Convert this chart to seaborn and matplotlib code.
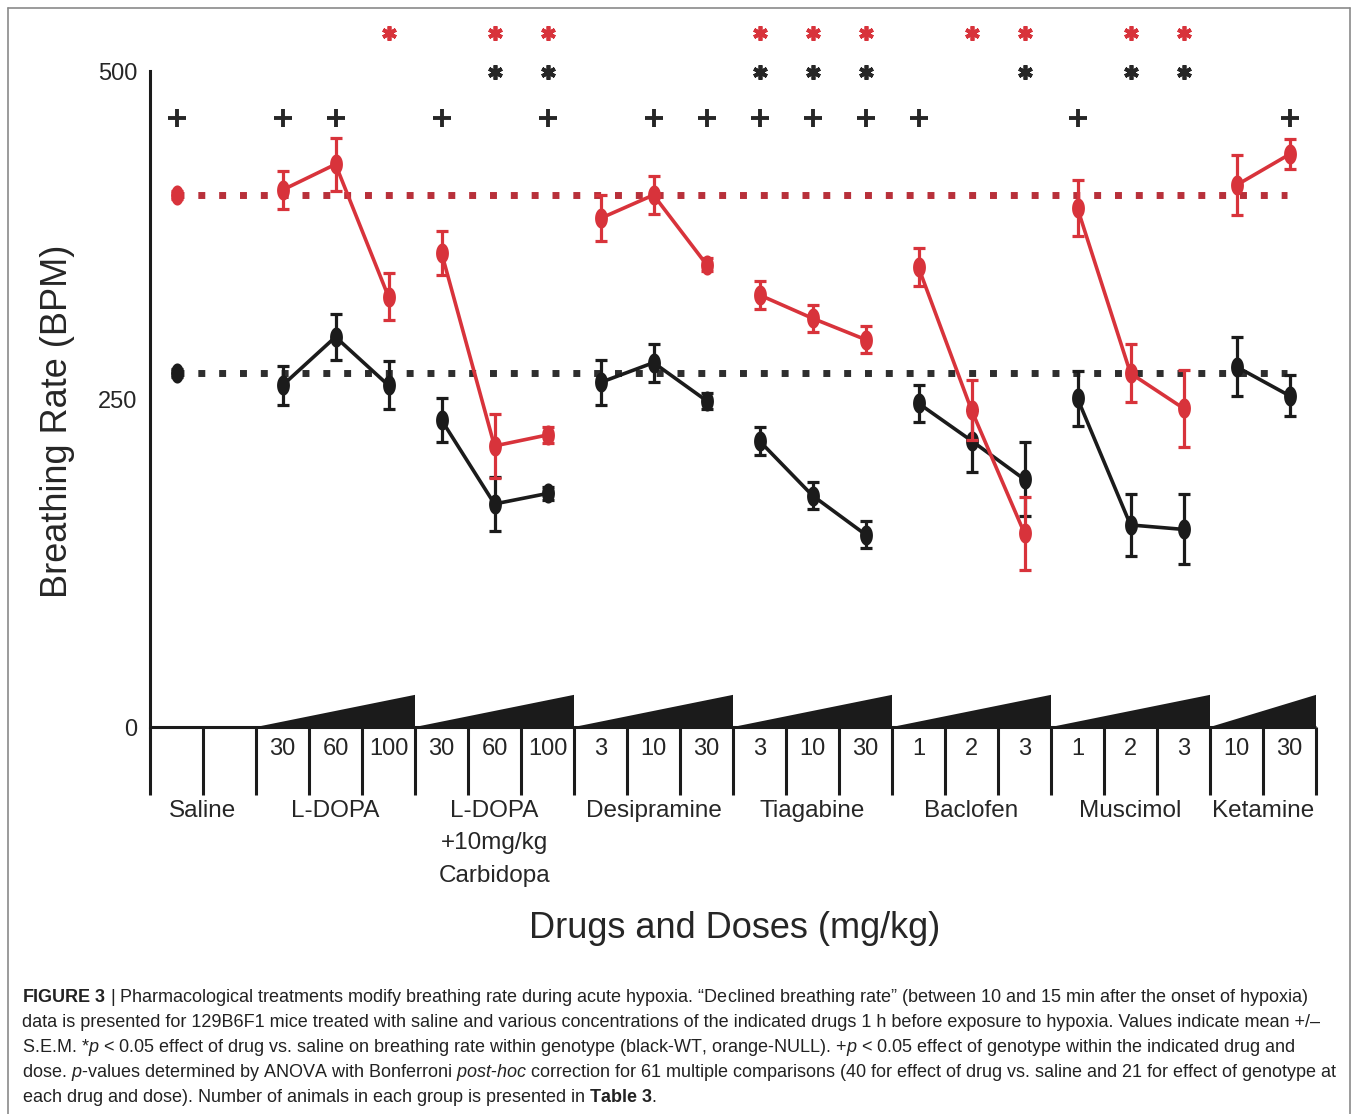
import numpy as np
import pandas as pd
import matplotlib
matplotlib.use("Agg")
import matplotlib.pyplot as plt
from matplotlib import font_manager
from matplotlib.lines import Line2D
import seaborn as sns

# --- data ---
drug_names = ["Saline", "L-DOPA", "L-DOPA\n+10mg/kg\nCarbidopa", "Desipramine",
              "Tiagabine", "Baclofen", "Muscimol", "Ketamine"]
drug_doses = [[""], ["30", "60", "100"], ["30", "60", "100"], ["3", "10", "30"],
              ["3", "10", "30"], ["1", "2", "3"], ["1", "2", "3"], ["10", "30"]]

wt_mean = [269.5, 260.4, 297.3, 260.4, 234.0, 170.0, 178.0, 262.6, 277.7, 248.7,
           218.0, 176.4, 146.7, 246.7, 218.2, 188.7, 250.4, 154.0, 150.6, 274.6, 252.5]
wt_sem = [3, 14.9, 17.5, 18.3, 17.0, 20.7, 5.3, 17.4, 14.4, 6.0,
          11.0, 10.3, 10.0, 14.0, 23.6, 28.2, 21.3, 23.5, 26.7, 22.5, 15.6]
null_mean = [405.5, 409.3, 428.9, 327.9, 361.5, 214.2, 222.6, 387.7, 405.5, 352.5,
             329.3, 311.5, 295.3, 350.3, 241.6, 147.6, 395.3, 269.6, 242.9, 413.0, 436.5]
null_sem = [3, 14.7, 20.0, 18.0, 16.8, 24.5, 6.0, 17.5, 14.4, 5.3,
            10.4, 10.5, 10.0, 14.5, 22.9, 28.0, 21.3, 22.2, 29.2, 23.0, 11.4]

# significance marks, index into the 21 points above
null_star = [3, 5, 6, 10, 11, 12, 14, 15, 17, 18]   # drug vs saline, NULL
wt_star = [5, 6, 10, 11, 12, 15, 17, 18]            # drug vs saline, WT
geno_plus = [0, 1, 2, 4, 6, 8, 9, 10, 11, 12, 13, 16, 20]  # genotype effect

caption = [
    r"$\mathbf{FIGURE\ 3}$ | Pharmacological treatments modify breathing rate during acute hypoxia. “Declined breathing rate” (between 10 and 15 min after the onset of hypoxia)",
    "data is presented for 129B6F1 mice treated with saline and various concentrations of the indicated drugs 1 h before exposure to hypoxia. Values indicate mean +/–",
    r"S.E.M. *$\mathit{p}$ < 0.05 effect of drug vs. saline on breathing rate within genotype (black-WT, orange-NULL). +$\mathit{p}$ < 0.05 effect of genotype within the indicated drug and",
    r"dose. $\mathit{p}$-values determined by ANOVA with Bonferroni $\mathit{post}$-$\mathit{hoc}$ correction for 61 multiple comparisons (40 for effect of drug vs. saline and 21 for effect of genotype at",
    r"each drug and dose). Number of animals in each group is presented in $\mathbf{Table\ 3}$.",
]

RED = "#d8333b"
RED_DOT = "#b8303a"
BLACK = "#1b1b1b"
BLACK_DOT = "#2e2e2e"

sns.set_style("white")
names = {f.name for f in font_manager.fontManager.ttflist}
main_font = "Liberation Sans" if "Liberation Sans" in names else "DejaVu Sans"
cap_font = "Liberation Sans Narrow" if "Liberation Sans Narrow" in names else main_font
plt.rcParams["font.family"] = [main_font, "DejaVu Sans"]
plt.rcParams["mathtext.fontset"] = "custom"
plt.rcParams["mathtext.rm"] = cap_font
plt.rcParams["mathtext.it"] = cap_font + ":italic"
plt.rcParams["mathtext.bf"] = cap_font + ":bold"

# cell layout: saline takes two cells, every dose one cell
group_start, group_cells = [], []
c = 0
for i, doses in enumerate(drug_doses):
    group_start.append(c)
    n = 2 if i == 0 else len(doses)
    group_cells.append(n)
    c += n
n_cells = c

rows = []
k = 0
for i, doses in enumerate(drug_doses):
    for j, d in enumerate(doses):
        pos = group_start[i] + j + 0.5
        rows.append(dict(pos=pos, drug=drug_names[i], dose=d, genotype="WT",
                         bpm=wt_mean[k], err=wt_sem[k]))
        rows.append(dict(pos=pos, drug=drug_names[i], dose=d, genotype="NULL",
                         bpm=null_mean[k], err=null_sem[k]))
        k += 1
df = pd.DataFrame(rows)

W, H = 1357, 1114
fig = plt.figure(figsize=(W / 100, H / 100), dpi=100)
ax_left, ax_right = 150, 1316
y0_pix, y500_pix = 727, 71
ppu = (y0_pix - y500_pix) / 500.0
ylo, yhi = -55, 540
ax_bottom_pix = y0_pix + (-ylo) * ppu
ax_top_pix = y0_pix - yhi * ppu
ax = fig.add_axes([ax_left / W, 1 - ax_bottom_pix / H,
                   (ax_right - ax_left) / W, (ax_bottom_pix - ax_top_pix) / H])
ax.set_xlim(0, n_cells)
ax.set_ylim(ylo, yhi)

# ellipse marker
t = np.linspace(0, 2 * np.pi, 41)
ellipse = list(zip(0.64 * np.cos(t), np.sin(t)))

# saline reference lines
x_end = n_cells - 0.55
for geno, col in [("WT", BLACK_DOT), ("NULL", RED_DOT)]:
    base = df[(df.genotype == geno) & (df.drug == "Saline")].bpm.iloc[0]
    ax.plot([0.5, x_end], [base, base], ls=(0, (1, 2)), lw=5, color=col,
            dash_capstyle="butt", zorder=1.5)

for z, (geno, col) in enumerate([("WT", BLACK), ("NULL", RED)]):
    sub = df[df.genotype == geno]
    ax.errorbar(sub["pos"].to_numpy(), sub["bpm"].to_numpy(), yerr=sub["err"].to_numpy(),
                fmt="none", ecolor=col, elinewidth=2.3, capsize=4, capthick=2.3,
                zorder=2 + z)
    sns.lineplot(data=sub, x="pos", y="bpm", units="drug", estimator=None,
                 sort=False, color=col, lw=2.6, marker=ellipse, markersize=14.5,
                 markeredgewidth=0, legend=False, ax=ax, zorder=2.5 + z)

# significance rows
pts = df[df.genotype == "WT"]["pos"].to_numpy()
ax.plot(pts[geno_plus], [464] * len(geno_plus), ls="none", marker="+",
        ms=12.5, mew=2.8, color="#262626", clip_on=False)
ax.plot(pts[wt_star], [499] * len(wt_star), ls="none", marker=(6, 2, 0),
        ms=10.5, mew=2.7, color="#262626", clip_on=False)
ax.plot(pts[null_star], [529] * len(null_star), ls="none", marker=(6, 2, 0),
        ms=10.5, mew=2.7, color=RED, clip_on=False)

# axes frame
for s in ["top", "right", "bottom"]:
    ax.spines[s].set_visible(False)
ax.spines["left"].set_bounds(0, 500)
ax.spines["left"].set_linewidth(2.2)
ax.spines["left"].set_color(BLACK)
ax.set_yticks([0, 250, 500])
ax.set_yticklabels(["0", "250", "500"])
ax.tick_params(axis="y", length=5, width=2.2, pad=4, labelsize=17, color=BLACK)
ax.set_xticks([])
ax.set_xlabel("")
ax.set_ylabel("")

# x "axis": baseline, cell dividers, dose wedges and labels
ax.plot([0, n_cells], [0, 0], color=BLACK, lw=2.2, solid_capstyle="butt", clip_on=False)
ax.vlines(np.arange(n_cells + 1), -52, 0, color=BLACK, lw=2.2, clip_on=False)
for i, doses in enumerate(drug_doses):
    s, n = group_start[i], group_cells[i]
    if i > 0:
        ax.fill([s, s + n, s + n], [0, 24.5, 0], color=BLACK, lw=0, clip_on=False)
    for j, d in enumerate(doses):
        ax.text(s + j + 0.5, -17, d, ha="center", va="center", fontsize=17)
    ax.text(s + n / 2, -55.5, drug_names[i], ha="center", va="top", fontsize=17.5,
            linespacing=1.62)

fig.text(58 / W, 1 - 421 / H, "Breathing Rate (BPM)", rotation=90,
         ha="center", va="center", fontsize=26)
fig.text(735 / W, 1 - 928 / H, "Drugs and Doses (mg/kg)",
         ha="center", va="center", fontsize=26)

cap_size = 14.4 if cap_font != main_font else 13.0
for i, line in enumerate(caption):
    fig.text(22 / W, 1 - (1002 + 25 * i) / H, line, ha="left", va="baseline",
             fontsize=cap_size, family=[cap_font, "DejaVu Sans"], color="#222222")

# outer frame of the figure panel
frame = dict(color="#8a8a8a", lw=1.2, transform=fig.transFigure)
fig.add_artist(Line2D([8 / W, 1350 / W], [1 - 8 / H, 1 - 8 / H], **frame))
fig.add_artist(Line2D([8 / W, 8 / W], [0, 1 - 8 / H], **frame))
fig.add_artist(Line2D([1350 / W, 1350 / W], [0, 1 - 8 / H], **frame))

fig.savefig("out.png", dpi=100)
